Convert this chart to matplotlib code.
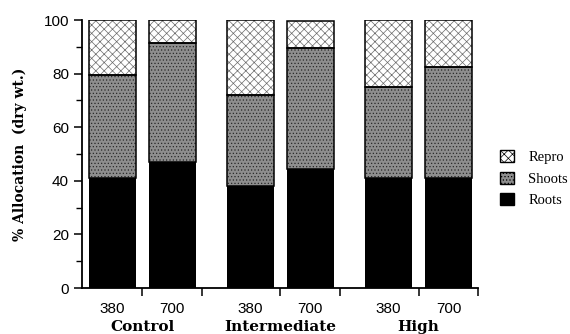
import numpy as np
import matplotlib
matplotlib.use('Agg')
import matplotlib.pyplot as plt
import matplotlib.transforms as mtransforms
from matplotlib.patches import Patch

########################################################################
# data (% allocation, dry weight)
groups = ['Control', 'Intermediate', 'High']
co2 = ['380', '700']
roots = [41, 47, 38, 44.5, 41, 41]
shoots = [38.5, 44.5, 34, 45, 34, 41.5]
repro = [20.5, 8.5, 28, 10, 25, 17.5]

########################################################################
plt.rcParams['hatch.linewidth'] = 0.5

fig = plt.figure(figsize=(5.7, 3.34), dpi=100)
ax = fig.add_axes([0.144, 0.1377, 0.6947, 0.8024])

offset = 0.217
width = 0.34
x = []
for g in range(len(groups)):
    x.append(g - offset)
    x.append(g + offset)
x = np.array(x)

roots = np.array(roots)
shoots = np.array(shoots)
repro = np.array(repro)

# fills with texture
ax.bar(x, roots, width, color='black', edgecolor='black', linewidth=0)
ax.bar(x, shoots, width, bottom=roots, color='#8e8e8e',
       edgecolor='#2a2a2a', hatch='.....', linewidth=0)
ax.bar(x, repro, width, bottom=roots + shoots, color='white',
       edgecolor='#6a6a6a', hatch='xxxx', linewidth=0)
# outlines
ax.bar(x, shoots, width, bottom=roots, fill=False, edgecolor='black', linewidth=1.1)
ax.bar(x, repro, width, bottom=roots + shoots, fill=False, edgecolor='black', linewidth=1.1)

ax.set_ylim(0, 100)
ax.set_xlim(-0.435, 2.43)
ax.set_yticks([0, 20, 40, 60, 80, 100])
ax.set_yticks([10, 30, 50, 70, 90], minor=True)
ax.set_xticks([0, 0.43, 1, 1.43, 2, 2.43])
ax.set_xticklabels([])
ax.tick_params(axis='both', which='major', direction='out', length=6, width=1.1)
ax.tick_params(axis='y', which='minor', direction='out', length=4, width=1.0)
for lbl in ax.get_yticklabels():
    lbl.set_family('Liberation Sans')
    lbl.set_fontsize(11)
ax.spines['top'].set_visible(False)
ax.spines['right'].set_visible(False)
ax.spines['left'].set_linewidth(1.3)
ax.spines['bottom'].set_linewidth(1.3)

ax.set_ylabel('% Allocation  (dry wt.)', family='DejaVu Serif',
              fontweight='bold', fontsize=10, labelpad=12)

# category labels under the axis
trans = mtransforms.blended_transform_factory(ax.transData, ax.transAxes)
for i, xi in enumerate(x):
    ax.text(xi, -0.078, co2[i % 2], transform=trans, ha='center', va='center',
            family='Liberation Sans', fontsize=11)
for g, name in enumerate(groups):
    ax.text(g, -0.145, name, transform=trans, ha='center', va='center',
            family='DejaVu Serif', fontweight='bold', fontsize=11)

# legend
handles = [Patch(facecolor='white', edgecolor='black', hatch='xxxx', label='Repro'),
           Patch(facecolor='#8e8e8e', edgecolor='black', hatch='.....', label='Shoots'),
           Patch(facecolor='black', edgecolor='black', label='Roots')]
leg = fig.legend(handles=handles, loc='center left', bbox_to_anchor=(0.855, 0.465),
                 frameon=False, handlelength=0.9, handleheight=0.9,
                 handletextpad=1.0, labelspacing=0.5,
                 prop={'family': 'Liberation Serif', 'size': 10.5})

fig.savefig('out.png', dpi=100)
